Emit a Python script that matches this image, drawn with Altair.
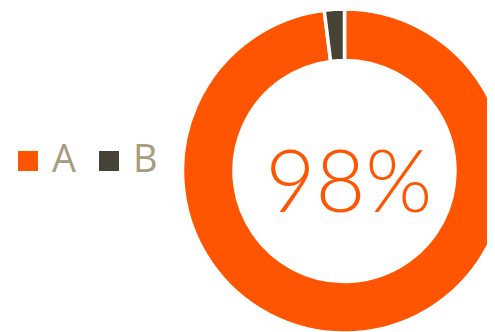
import altair as alt
import pandas as pd

categories = ["A", "B"]
values = [98, 2]
colors = ["#FF5500", "#474236"]
center_label = ["98%"]

df = pd.DataFrame({"category": categories, "value": values, "order": [0, 1]})
lab = pd.DataFrame({"label": center_label})

arc = alt.Chart(df).mark_arc(
    radius=162, radius2=110.5, stroke="white", strokeWidth=3.5
).encode(
    theta=alt.Theta("value:Q", stack=True),
    order=alt.Order("order:Q"),
    color=alt.Color(
        "category:N",
        scale=alt.Scale(domain=categories, range=colors),
        legend=alt.Legend(
            title=None,
            orient="none",
            legendX=1,
            legendY=134,
            padding=0,
            direction="horizontal",
            symbolType="square",
            symbolSize=400,
            symbolStrokeWidth=0,
            labelFontSize=38,
            labelFont="Open Sans",
            labelColor="#A89B80",
            labelOffset=5,
            columnPadding=13,
            labelBaseline="middle",
        ),
    ),
    x=alt.value(336.5),
    y=alt.value(163),
)

text = alt.Chart(lab).mark_text(
    font="Lato", fontWeight=300, fontSize=86, color="#FF5500",
    align="center", baseline="alphabetic"
).encode(
    text="label:N",
    x=alt.value(341),
    y=alt.value(204),
)

chart = alt.layer(arc, text).properties(
    width=479, height=324, autosize=alt.AutoSizeParams(type="none"), padding=0
).configure_view(strokeWidth=0)

chart.save("out.html", embed_options={"renderer": "svg", "actions": False})
